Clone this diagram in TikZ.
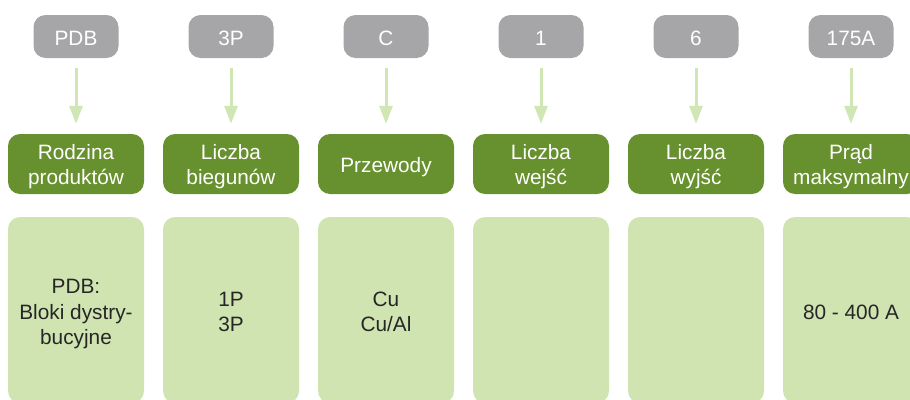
\documentclass[tikz,border=0pt]{standalone}
\usepackage{fontspec}
\setmainfont{Liberation Sans}
\usetikzlibrary{arrows.meta}
\definecolor{gbox}{HTML}{A6A6A8}
\definecolor{dgreen}{HTML}{67902E}
\definecolor{pgreen}{HTML}{D0E4B2}
\definecolor{arrg}{HTML}{D1E6B5}
\definecolor{dtext}{HTML}{262626}
\newcommand{\mycell}[2]{\raisebox{#1}[\height][\depth]{\begin{tabular}{@{}c@{}}#2\end{tabular}}}
\tikzset{
  codebox/.style={rectangle, rounded corners=12pt, fill=gbox, text=white, minimum width=85pt, minimum height=43pt, inner sep=0pt, font=\fontsize{20.8}{25}\selectfont},
  headbox/.style={rectangle, rounded corners=12pt, fill=dgreen, text=white, minimum width=136pt, minimum height=60pt, inner sep=0pt, font=\fontsize{20.8}{25}\selectfont},
  valbox/.style={rectangle, rounded corners=12pt, fill=pgreen, text=dtext, minimum width=136pt, minimum height=186pt, inner sep=0pt, font=\fontsize{20.8}{25.5}\selectfont},
  arr/.style={draw=arrg, line width=3pt, -{Triangle[width=13pt,length=18pt]}, shorten <=10pt, shorten >=10pt}
}
\begin{document}
\begin{tikzpicture}[x=1pt,y=-1pt]
\useasboundingbox (0,0) rectangle (910,399);
\clip (0,0) rectangle (910,399);
\foreach \i/\c/\h/\v in {
  1/PDB/{Rodzina\\produktów}/{PDB:\\Bloki dystry-\\bucyjne},
  2/3P/{Liczba\\biegunów}/{1P\\3P},
  3/C/{Przewody}/{Cu\\Cu/Al},
  4/1/{Liczba\\wejść}/{},
  5/6/{Liczba\\wyjść}/{},
  6/175A/{Prąd\\maksymalny}/{80 - 400 A}}{
  \pgfmathsetmacro{\xx}{76+155*(\i-1)}
  \node[codebox] (g\i) at (\xx,36.5) {\raisebox{-1.5pt}[\height][\depth]{\c}};
  \node[headbox] (h\i) at (\xx,164) {\mycell{-3pt}{\h}};
  \node[valbox] (p\i) at (\xx,310) {\mycell{-4pt}{\v}};
  \draw[arr] (g\i) -- (h\i);
}
\end{tikzpicture}
\end{document}
